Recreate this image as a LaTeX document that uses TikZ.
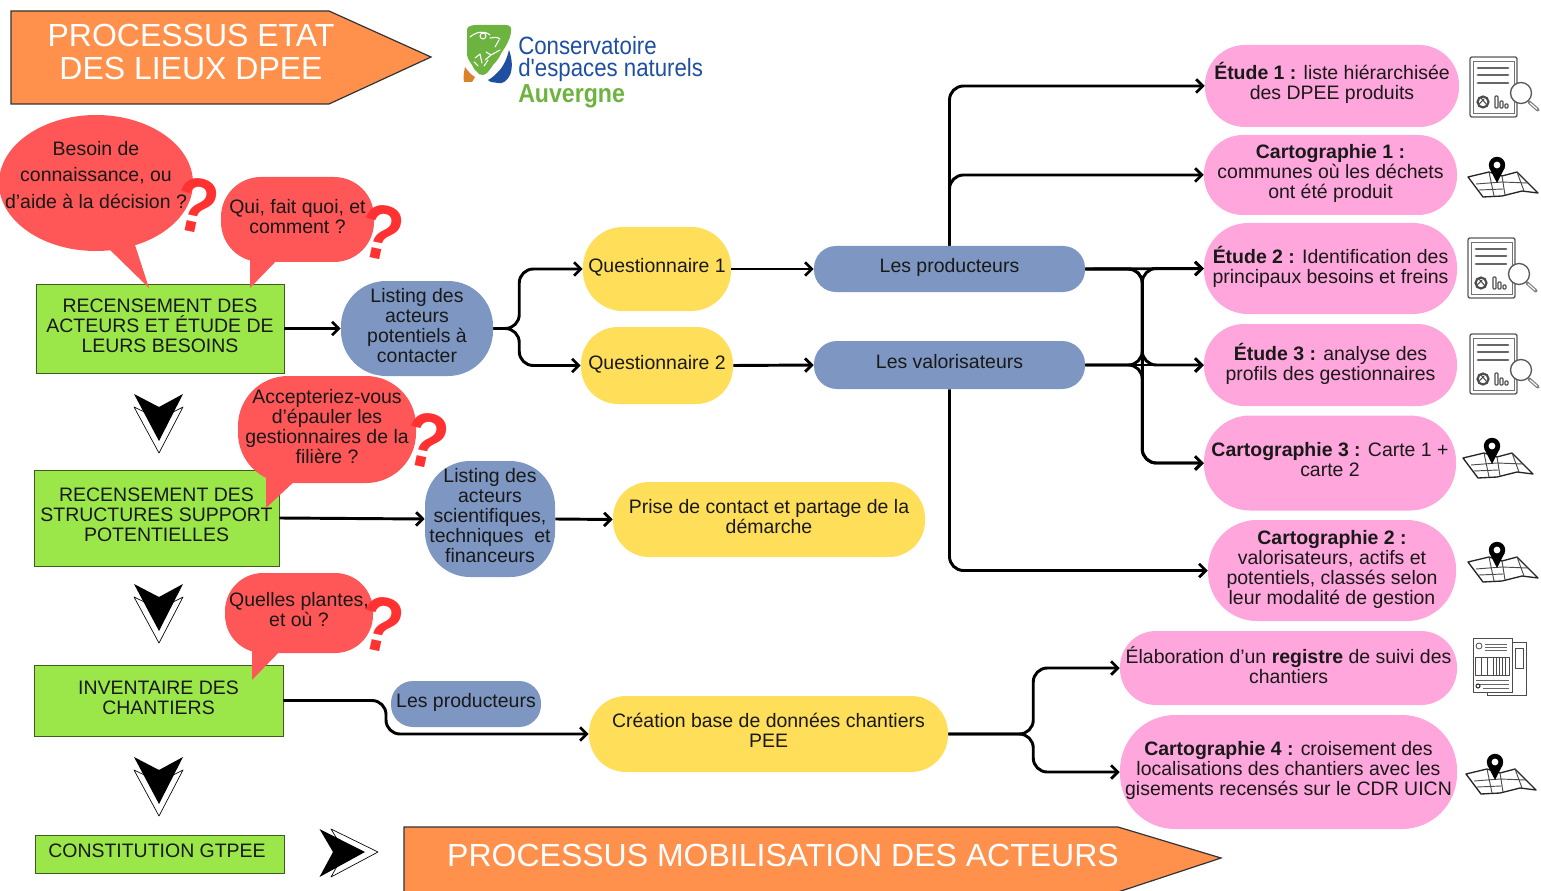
\documentclass[tikz,border=0pt]{standalone}
\usepackage{fontspec}
\setmainfont{Liberation Sans}
\newfontfamily\logofont[FakeStretch=0.89]{Liberation Sans}
\usetikzlibrary{arrows.meta}
\definecolor{arrowfill}{HTML}{FF914D}
\definecolor{stepgreen}{HTML}{9BE648}
\definecolor{bubblered}{HTML}{FF5757}
\definecolor{markred}{HTML}{FF3131}
\definecolor{listblue}{HTML}{7D97C2}
\definecolor{actionyellow}{HTML}{FFDE59}
\definecolor{resultpink}{HTML}{FFA6DC}
\definecolor{logoblue}{HTML}{1F4FA0}
\definecolor{logogreen}{HTML}{6DB33F}
\definecolor{logoorange}{HTML}{D9822B}
\def\pxu{0.75pt}
\tikzset{
  basetext/.style={inner sep=0pt,align=center,text=black!90,font=\fontsize{14.6}{15}\selectfont},
  sized/.style n args={3}{minimum width=#1*\pxu,minimum height=#2*\pxu,rounded corners=#3*\pxu},
  boxed/.style={basetext,text depth=4.8pt},
  stepbox/.style={boxed,draw=black!60!stepgreen,line width=.7pt,fill=stepgreen},
  listpill/.style={boxed,fill=listblue},
  actionpill/.style={boxed,fill=actionyellow},
  resultpill/.style={boxed,fill=resultpink},
  bubble/.style={boxed,fill=bubblered},
  hugetitle/.style={inner sep=0pt,align=center,text=white,font=\fontsize{24}{24.75}\selectfont},
  qmark/.style={inner sep=0pt,text=markred,rotate=-12,xscale=.9,font=\fontsize{58}{58}\selectfont\bfseries},
  link/.style={line width=2.2pt,rounded corners=14*\pxu,-{Straight Barb[length=5pt,width=10pt,line width=2.1pt]}},
  rapport/.pic={
    \draw[black!65,line width=1pt,fill=white,rounded corners=1.5pt] (0,-1) rectangle (47,59);
    \draw[black!55,line width=.7pt] (3,3) rectangle (44,55);
    \foreach \y in {10,17,25} \draw[black!60,line width=2.2pt,line cap=round] (8,\y) -- (38,\y);
    \draw[black!70,line width=1.6pt] (13,44) circle (5.5);
    \draw[black!70,line width=.8pt] (11,40) -- (17,47) (9,46) -- (14,41);
    \draw[black!70,line width=.8pt,rounded corners=.6pt] (25,50) rectangle (28,38) (30,50) rectangle (33,43) (35,50) rectangle (38,46);
    \draw[black!65,line width=1pt,fill=white] (51,35) circle (10.5);
    \draw[black!50,line width=2.6pt,line cap=round] (59,44) -- (68,52);
    \draw[white,line width=.8pt,line cap=round] (60,45) -- (67,51);
  },
  carte/.pic={
    \draw[black!85,line width=1pt,fill=white,line join=round] (-29,21) -- (-8,16) -- (5,20) -- (20,16) -- (41,37) -- (25,35) -- (5,40) -- (-14,41) -- cycle;
    \draw[black!70,line width=.7pt] (-21,28) -- (5,26) -- (31,27) (-8,16) -- (-3,40) (5,20) -- (8,39) (20,16) -- (27,35) (-18,34) -- (6,33);
    \fill[black] (-7.6,12) -- (0,27) -- (7.6,12) -- cycle;
    \fill[black] (0,9) circle (8.2);
    \fill[white] (0,9) circle (3.4);
  },
  registre/.pic={
    \draw[black!70,line width=.7pt,fill=white] (14,4) rectangle (53,57);
    \draw[black!70,line width=.7pt] (42,10) rectangle (50,30);
    \draw[black!70,line width=.7pt,fill=white] (0,0) rectangle (39,54);
    \draw[black!70,line width=.6pt] (6,8) circle (3);
    \draw[black!60,line width=.6pt] (12,6) -- (34,6) (12,9) -- (34,9) (12,12) -- (34,12);
    \draw[black!70,line width=.7pt] (2,19) rectangle (36,37);
    \foreach \x in {8,14,20,23,26,29,32} \draw[black!70,line width=.6pt] (\x,19) -- (\x,37);
    \draw[black!60,line width=.6pt] (3,42) -- (36,42) (3,46) -- (36,46) (10,50) -- (36,50);
    \draw[black!80,line width=.8pt] (5,48) circle (2);
  },
  flechebas/.pic={
    \draw[black,line width=.5pt,fill=white,line join=round] (-25,13) -- (0,59) -- (24,13) -- (0,25) -- cycle;
    \fill[black] (-25,0) -- (0,13) -- (24,0) -- (0,47) -- cycle;
  }
}

\begin{document}
\begin{tikzpicture}[x=0.75pt,y=-0.75pt]
\useasboundingbox (0,0) rectangle (1541,891);

% titles
\filldraw[fill=arrowfill,draw=black!80,line width=.9pt] (11,11) -- (329,11) -- (431,57) -- (329,104) -- (11,104) -- cycle;
\node[hugetitle] (titleEtat) at (191,52) {PROCESSUS ETAT\\DES LIEUX DPEE};
\filldraw[fill=arrowfill,draw=black!80,line width=.9pt] (404,900) -- (404,827) -- (1118,827) -- (1221,858) -- (1118,892) -- (1118,900) -- cycle;
\node[hugetitle] (titleMobil) at (783,855) {PROCESSUS MOBILISATION DES ACTEURS};

% logo
\fill[logogreen] (467,29) .. controls (468,26) and (472,25) .. (477,25) -- (505,25) .. controls (510,25) and (512,27) .. (511,32) .. controls (510,40) and (506,46) .. (502,52) .. controls (499,58) and (497,61) .. (493,65) .. controls (490,70) and (486,75) .. (483,75) .. controls (480,75) and (478,74) .. (477,72) .. controls (475,70) and (473,68) .. (472,65) .. controls (469,60) and (467,58) .. (467,55) -- cycle;
\draw[white,line width=.8pt,line cap=round,line join=round] (470,37) .. controls (476,32) and (484,30) .. (490,35) (483,36) circle (3) (490,38) .. controls (494,38) and (496,36) .. (500,39) (499,40) -- (495,47) (500,50) -- (491,55) -- (485,60) (491,55) -- (486,52) (475,58) -- (480,54) -- (482,63) (478,66) -- (474,62) (484,66) -- (488,60);
\fill[logoorange] (465,67) .. controls (468,71) and (471,75) .. (475,77) -- (472,82) -- (464,82) .. controls (463,77) and (464,72) .. (465,67) -- cycle;
\fill[logoblue] (509,50) .. controls (512,58) and (513,68) .. (510,75) .. controls (507,81) and (503,84) .. (498,83) -- (491,82) .. controls (489,81) and (488,80) .. (488,80) .. controls (492,78) and (495,75) .. (498,72) .. controls (504,66) and (507,58) .. (509,50) -- cycle;
\node[inner sep=0pt,anchor=west,align=left,text=logoblue,font=\logofont\fontsize{18.75}{16.5}\selectfont] (logoText) at (518,59) {Conservatoire\\d'espaces naturels};
\node[inner sep=0pt,anchor=west,text=logogreen,font=\logofont\fontsize{19.5}{20}\selectfont\bfseries] (logoRegion) at (518,96) {Auvergne};

% left column
\node[stepbox,sized={248}{89}{0}] (recActeurs) at (160,328.5) {RECENSEMENT DES\\ACTEURS ET ÉTUDE DE\\LEURS BESOINS};
\node[stepbox,sized={245}{96}{0}] (recStruct) at (156.5,518) {RECENSEMENT DES\\STRUCTURES SUPPORT\\POTENTIELLES};
\node[stepbox,sized={249}{71}{0}] (invChantiers) at (158.5,700.5) {INVENTAIRE DES\\CHANTIERS};
\node[stepbox,sized={249}{38}{0}] (constGt) at (159.5,854) {CONSTITUTION GTPEE\kern3.75pt};

\foreach \y in {394,584,757} \pic at (159,\y) {flechebas};
\draw[black,line width=.5pt,fill=white,line join=round] (331,829) -- (378,852) -- (331,877) -- (345,852) -- cycle;
\fill[black] (319.5,829) -- (365,852) -- (319.5,877) -- (333,852) -- cycle;

% bubbles
\fill[bubblered] (105,245) -- (149,288) -- (135,245) -- cycle;
\fill[bubblered] (96,183) ellipse [x radius=97,y radius=68];
\node[basetext,font=\fontsize{14.6}{20}\selectfont] (besoin) at (96,175) {Besoin de\\connaissance, ou\\d’aide à la décision ?};
\fill[bubblered] (250,255) -- (250,288) -- (282,255) -- cycle;
\node[bubble,sized={153}{85}{40}] (quiFait) at (297.5,219.5) {Qui, fait quoi, et\\comment ?};
\fill[bubblered] (266,478) -- (266,508) -- (298,478) -- cycle;
\node[bubble,sized={178}{107}{50}] (accept) at (327,429.5) {Accepteriez-vous\\d’épauler les\\gestionnaires de la\\filière ?};
\fill[bubblered] (252,648) -- (252,680) -- (283,648) -- cycle;
\node[bubble,sized={148}{80}{38}] (plantes) at (299,613) {Quelles plantes,\\et où ?};
\node[qmark] (markA) at (197,206) {?};
\node[qmark] (markB) at (382,233) {?};
\node[qmark] (markC) at (427,441) {?};
\node[qmark] (markD) at (382,625) {?};

% middle nodes
\node[listpill,sized={152}{95}{45}] (listActeurs) at (417,328.5) {Listing des\\acteurs\\potentiels à\\contacter};
\node[listpill,sized={130}{116}{45}] (listScient) at (490,519) {Listing des\\acteurs\\scientifiques,\\techniques~ et\\financeurs};
\node[listpill,sized={150}{46}{22}] (prodBis) at (466,704) {Les producteurs};
\node[actionpill,sized={148}{84}{40}] (questA) at (657,269) {Questionnaire 1};
\node[actionpill,sized={152}{77}{37}] (questB) at (657,365.5) {Questionnaire 2};
\node[actionpill,sized={312}{75}{36}] (prise) at (769,519.5) {Prise de contact et partage de la\\démarche};
\node[actionpill,sized={359}{76}{37}] (creation) at (768.5,734) {Création base de données chantiers\\PEE};
\node[listpill,sized={271}{46}{22}] (prod) at (949.5,269) {Les producteurs};
\node[listpill,sized={271}{48}{23}] (valo) at (949.5,365) {Les valorisateurs};

% results
\node[resultpill,text depth=7.5pt,sized={254}{82}{40}] (etudeA) at (1332,86) {\textbf{Étude 1 :} liste hiérarchisée\\des DPEE produits};
\node[resultpill,sized={253}{80}{39}] (cartoA) at (1330.5,175) {\textbf{Cartographie 1 :}\\communes où les déchets\\ont été produit};
\node[resultpill,sized={253}{91}{44}] (etudeB) at (1330.5,268.5) {\textbf{Étude 2 :} Identification des\\principaux besoins et freins};
\node[resultpill,sized={253}{82}{40}] (etudeC) at (1330.5,365) {\textbf{Étude 3 :} analyse des\\profils des gestionnaires};
\node[resultpill,sized={252}{95}{46}] (cartoC) at (1330,463) {\textbf{Cartographie 3 :} Carte 1 +\\carte 2};
\node[resultpill,sized={248}{101}{49}] (cartoB) at (1332,570.5) {\textbf{Cartographie 2 :}\\valorisateurs, actifs et\\potentiels, classés selon\\leur modalité de gestion};
\node[resultpill,sized={337}{74}{36}] (registreSuivi) at (1288.5,668) {Élaboration d’un \textbf{registre} de suivi des\\chantiers};
\node[resultpill,sized={337}{114}{55}] (cartoD) at (1288.5,772) {\textbf{Cartographie 4 :} croisement des\\localisations des chantiers avec les\\gisements recensés sur le CDR UICN};

% icons
\pic at (1470,58) {rapport};
\pic at (1468,239) {rapport};
\pic at (1470,335) {rapport};
\pic at (1497,156) {carte};
\pic at (1492,437) {carte};
\pic at (1497,541) {carte};
\pic at (1495,753) {carte};
\pic at (1473,638) {registre};

% connectors
\draw[link] (recActeurs.east) -- (listActeurs.west);
\draw[link] (listActeurs.east) -- ++(26,0) |- (questA.west);
\draw[link] (listActeurs.east) -- ++(26,0) |- (questB.west);
\draw[link] (questA.east) -- (prod.west);
\draw[link] (questB.east) -- (valo.west);
\draw[link] (prod.north) |- (etudeA.west);
\draw[link] (prod.north) |- (cartoA.west);
\draw[link] (valo.south) |- (cartoB.west);
\draw[link] (prod.east) -- (etudeB.west);
\draw[link] (valo.east) -- (etudeC.west);
\draw[link] (prod.east) -- ++(57,0) |- (etudeC.west);
\draw[link] (prod.east) -- ++(57,0) |- (cartoC.west);
\draw[link] (valo.east) -- ++(57,0) |- (etudeB.west);
\draw[link] (valo.east) -- ++(57,0) |- (cartoC.west);
\draw[link] (recStruct.east) -- (listScient.west);
\draw[link] (listScient.east) -- (prise.west);
\draw[link] (invChantiers.east) -- (386,700.5) -- (386,734) -- (creation.west);
\draw[link] (creation.east) -- ++(85,0) |- (registreSuivi.west);
\draw[link] (creation.east) -- ++(85,0) |- (cartoD.west);

\end{tikzpicture}
\end{document}
